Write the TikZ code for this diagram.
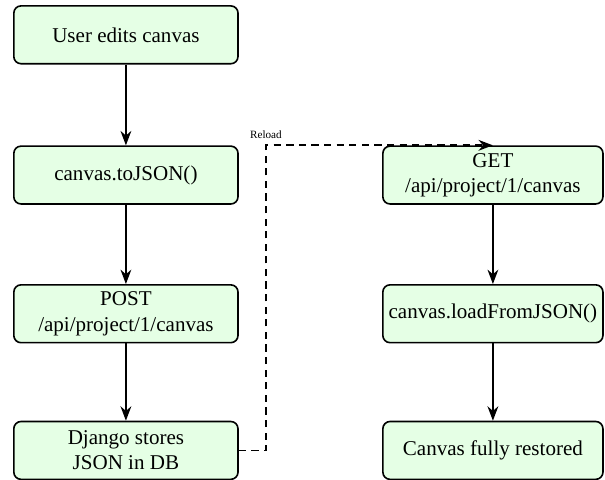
\documentclass[tikz,border=0pt]{standalone}
\usepackage{fontspec}
\setmainfont{Liberation Serif}
\newfontfamily\boxfont{Liberation Serif}
\usepackage{tikz}
\usetikzlibrary{arrows.meta}

\tikzset{
    stepbox/.style={draw, line width=0.9pt, rounded corners=4pt, fill=green!10, align=center,
        minimum width=4.38cm, minimum height=1.13cm, inner sep=2pt,
        font=\boxfont\fontsize{11.7}{14}\selectfont},
    flow/.style={line width=0.95pt, -{Stealth[length=8pt,width=6pt]}}
}

\begin{document}
\begin{tikzpicture}
    % Fix the page size
    \useasboundingbox (0,0) rectangle (11.82,-9.375);

    % Save path (left column)
    \node[stepbox] (edit) at (2.46,-0.68) {User edits canvas};
    \node[stepbox] (tojson) at (2.46,-3.42) {canvas.toJSON()};
    \node[stepbox] (post) at (2.46,-6.13) {POST\\/api/project/1/canvas};
    \node[stepbox] (store) at (2.46,-8.8) {Django stores\\JSON in DB};

    % Load path (right column)
    \node[stepbox, minimum width=4.3cm] (get) at (9.63,-3.42) {GET\\/api/project/1/canvas};
    \node[stepbox, minimum width=4.3cm] (load) at (9.63,-6.13) {canvas.loadFromJSON()};
    \node[stepbox, minimum width=4.3cm] (restored) at (9.63,-8.8) {Canvas fully restored};

    % Arrows
    \draw[flow] (edit) -- (tojson);
    \draw[flow] (tojson) -- (post);
    \draw[flow] (post) -- (store);
    \draw[flow] (get) -- (load);
    \draw[flow] (load) -- (restored);

    % Reload link
    \draw[flow, dash pattern=on 4pt off 3pt] (store.east) -- ++(0.53,0) coordinate (turn) |- (get.north);
    \node[above, font=\boxfont\fontsize{6.2}{7.5}\selectfont, inner sep=3.5pt] (reload) at (turn |- get.north) {Reload};
\end{tikzpicture}
\end{document}
